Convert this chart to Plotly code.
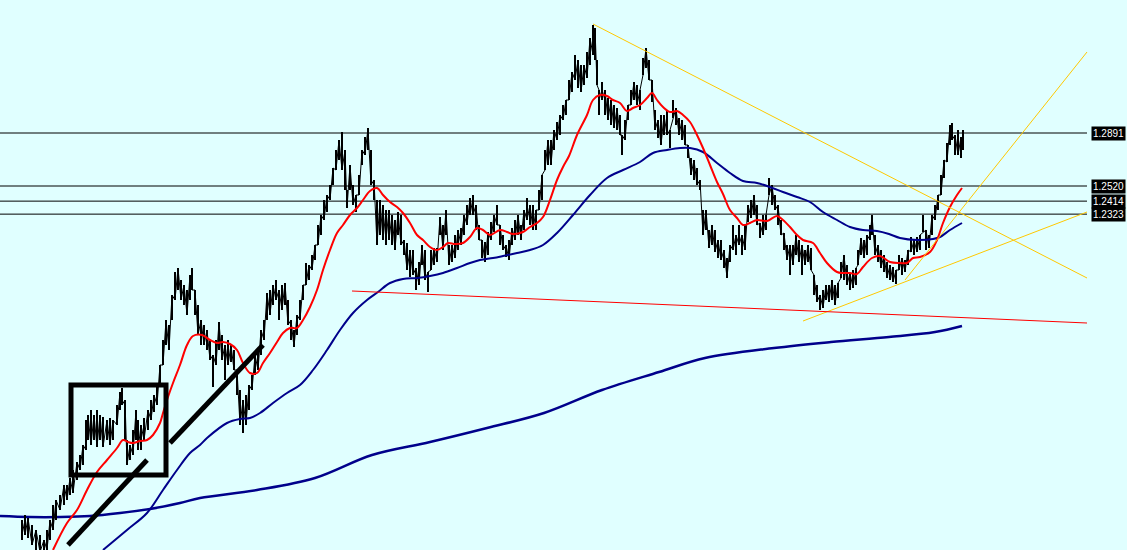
import plotly.graph_objects as go

# ---------------- data (bar index, prices) ----------------
bar = [22,25,28,32,36,40,44,47,50,53,
       56,60,64,67,70,73,77,80,83,86,
       88,91,94,97,100,103,107,110,113,117,
       120,122,125,127,130,133,136,138,141,144,
       148,151,154,157,160,163,166,169,172,175,
       178,181,184,187,190,192,195,198,201,204,
       207,210,213,216,219,222,225,228,231,234,
       237,240,243,246,249,252,255,258,261,264,
       267,270,273,276,279,282,285,288,291,294,
       297,300,303,306,309,312,315,318,321,324,
       327,330,333,336,339,342,345,347,350,353,
       356,359,362,365,368,371,374,377,380,383,
       386,389,392,395,398,401,404,407,410,413,
       416,419,422,425,428,431,434,437,440,443,
       446,449,452,455,458,461,464,467,470,473,
       476,479,482,485,488,491,494,497,500,503,
       506,509,512,515,518,521,524,527,530,533,
       536,539,542,545,548,551,554,557,560,563,
       566,569,572,575,578,581,584,587,590,593,
       595,597,599,602,605,608,611,614,617,620,
       622,625,628,631,634,637,640,643,646,649,
       652,655,658,661,664,667,670,673,676,679,
       682,685,688,691,694,697,700,703,706,709,
       712,715,718,721,724,727,730,733,736,739,
       742,745,748,751,754,757,760,763,766,769,
       772,775,778,781,784,787,790,793,796,799,
       802,805,808,811,814,817,820,823,826,829,
       832,835,838,841,844,847,850,853,856,858,
       861,864,867,870,872,875,878,881,884,887,
       890,893,896,899,902,905,908,911,914,917,
       920,923,926,929,932,935,938,941,944,947,
       950,952,955,958,961,963]

high = [1.0182,1.0217,1.0196,1.0147,1.0112,1.0077,1.0042,1.0112,1.0182,1.0287,
        1.0322,1.0357,1.0427,1.0427,1.0476,1.0532,1.0588,1.0637,1.0707,1.0882,
        1.0917,1.0952,1.0917,1.0952,1.0917,1.0903,1.0882,1.0896,1.0882,1.0987,
        1.1078,1.1106,1.1022,1.0742,1.0707,1.0812,1.0952,1.0882,1.0847,1.0896,
        1.0952,1.1022,1.1057,1.1127,1.1267,1.1442,1.1582,1.1547,1.1757,1.1918,
        1.1946,1.1862,1.1827,1.1792,1.1897,1.1946,1.1792,1.1687,1.1582,1.1547,
        1.1512,1.1442,1.1337,1.1442,1.1568,1.1477,1.1407,1.1442,1.1407,1.1372,
        1.1232,1.1092,1.1022,1.1057,1.1127,1.1197,1.1337,1.1372,1.1512,1.1582,
        1.1771,1.1792,1.1827,1.1862,1.1792,1.1827,1.1841,1.1722,1.1582,1.1512,
        1.1617,1.1722,1.1827,1.1981,1.1967,1.2037,1.2107,1.2247,1.2317,1.2422,
        1.2457,1.2527,1.2646,1.2772,1.2842,1.2898,1.2772,1.2492,1.2667,1.2527,
        1.2457,1.2597,1.2772,1.2863,1.2926,1.2772,1.2562,1.2422,1.2422,1.2387,
        1.2352,1.2352,1.2317,1.2282,1.2338,1.2317,1.2142,1.2121,1.2072,1.2072,
        1.1946,1.1988,1.2107,1.2072,1.1918,1.2072,1.2086,1.2086,1.2303,1.2247,
        1.2352,1.2107,1.2107,1.2177,1.2212,1.2226,1.2317,1.2387,1.2436,1.2457,
        1.2387,1.2247,1.2142,1.2128,1.2198,1.2268,1.2317,1.2387,1.2247,1.2177,
        1.2107,1.2142,1.2226,1.2282,1.2317,1.2247,1.2352,1.2436,1.2387,1.2387,
        1.2352,1.2492,1.2597,1.2772,1.2842,1.2842,1.2912,1.2968,1.3017,1.3087,
        1.3122,1.3262,1.3318,1.3437,1.3402,1.3367,1.3367,1.3458,1.3556,1.3647,
        1.3626,1.3402,1.3192,1.3248,1.3192,1.3136,1.3122,1.3087,1.3066,1.3017,
        1.2877,1.2982,1.3087,1.3192,1.3248,1.3227,1.3192,1.3416,1.3486,1.3402,
        1.3262,1.3052,1.2982,1.3017,1.3017,1.3052,1.2912,1.3122,1.3066,1.2996,
        1.2982,1.2947,1.2807,1.2716,1.2702,1.2646,1.2562,1.2352,1.2352,1.2212,
        1.2247,1.2212,1.2142,1.2142,1.2072,1.2016,1.2107,1.2247,1.2177,1.2247,
        1.2177,1.2247,1.2387,1.2422,1.2457,1.2387,1.2261,1.2317,1.2317,1.2576,
        1.2527,1.2457,1.2387,1.2282,1.2191,1.2107,1.2107,1.2107,1.2177,1.2142,
        1.2107,1.2072,1.2107,1.2086,1.1897,1.1827,1.1757,1.1792,1.1827,1.1827,
        1.1862,1.1827,1.1841,1.1988,1.2037,1.1967,1.1911,1.1932,1.1946,1.2072,
        1.2156,1.2142,1.2177,1.2247,1.2317,1.2177,1.2107,1.2072,1.2037,1.1988,
        1.1967,1.1953,1.1932,1.2037,1.2016,1.2002,1.2072,1.2163,1.2142,1.2163,
        1.2177,1.2317,1.2212,1.2177,1.2317,1.2387,1.2457,1.2597,1.2702,1.2821,
        1.2947,1.2961,1.2877,1.2912,1.2863,1.2912]

low = [1.0042,1.0077,1.0056,1.0007,0.9972,0.9958,0.9958,0.9972,1.0042,1.0112,
       1.0182,1.0252,1.0287,1.0322,1.0357,1.0371,1.0462,1.0532,1.0567,1.0672,
       1.0742,1.0707,1.0742,1.0693,1.0742,1.0693,1.0742,1.0707,1.0742,1.0847,
       1.0952,1.0987,1.0742,1.0567,1.0602,1.0637,1.0742,1.0672,1.0672,1.0742,
       1.0812,1.0882,1.0938,1.0987,1.1127,1.1267,1.1407,1.1372,1.1582,1.1722,
       1.1792,1.1722,1.1687,1.1617,1.1722,1.1792,1.1617,1.1477,1.1407,1.1407,
       1.1372,1.1302,1.1113,1.1267,1.1372,1.1302,1.1162,1.1267,1.1288,1.1232,
       1.1057,1.0847,1.0791,1.0847,1.0952,1.1092,1.1197,1.1232,1.1337,1.1442,
       1.1582,1.1617,1.1687,1.1722,1.1582,1.1652,1.1687,1.1547,1.1442,1.1393,
       1.1477,1.1582,1.1722,1.1827,1.1862,1.1932,1.2002,1.2107,1.2177,1.2282,
       1.2338,1.2422,1.2527,1.2632,1.2702,1.2632,1.2492,1.2366,1.2492,1.2387,
       1.2338,1.2457,1.2667,1.2737,1.2772,1.2527,1.2422,1.2107,1.2177,1.2142,
       1.2107,1.2142,1.2107,1.2072,1.2177,1.2107,1.2037,1.1932,1.1883,1.1897,
       1.1792,1.1827,1.1967,1.1862,1.1778,1.1932,1.1967,1.1988,1.2177,1.2072,
       1.2177,1.1967,1.1988,1.2016,1.2072,1.2107,1.2177,1.2247,1.2317,1.2317,
       1.2212,1.2142,1.2016,1.1988,1.2037,1.2142,1.2198,1.2247,1.2107,1.2072,
       1.2023,1.2002,1.2107,1.2142,1.2177,1.2142,1.2212,1.2282,1.2247,1.2212,
       1.2212,1.2352,1.2422,1.2632,1.2667,1.2667,1.2772,1.2842,1.2877,1.2982,
       1.3017,1.3122,1.3178,1.3262,1.3206,1.3178,1.3227,1.3276,1.3367,1.3437,
       1.3402,1.3227,1.3017,1.3122,1.3017,1.2982,1.2947,1.2926,1.2912,1.2877,
       1.2737,1.2842,1.2982,1.3087,1.3122,1.3087,1.3052,1.3297,1.3346,1.3262,
       1.3108,1.2912,1.2856,1.2807,1.2877,1.2877,1.2786,1.2996,1.2947,1.2877,
       1.2842,1.2807,1.2716,1.2597,1.2562,1.2527,1.2492,1.2177,1.2212,1.2086,
       1.2107,1.2058,1.2016,1.2002,1.1946,1.1876,1.1988,1.2072,1.2037,1.2107,
       1.2037,1.2072,1.2268,1.2296,1.2317,1.2247,1.2156,1.2177,1.2212,1.2457,
       1.2387,1.2352,1.2247,1.2177,1.2072,1.2002,1.1897,1.1967,1.2037,1.1988,
       1.1897,1.1967,1.1988,1.1932,1.1757,1.1708,1.1652,1.1666,1.1722,1.1708,
       1.1722,1.1687,1.1736,1.1876,1.1862,1.1827,1.1792,1.1806,1.1827,1.1967,
       1.2037,1.2016,1.2037,1.2142,1.2177,1.2037,1.1988,1.1946,1.1918,1.1876,
       1.1862,1.1848,1.1834,1.1932,1.1897,1.1918,1.1967,1.2058,1.2037,1.2058,
       1.2072,1.2198,1.2072,1.2086,1.2177,1.2282,1.2352,1.2457,1.2576,1.2688,
       1.2807,1.2842,1.2737,1.2737,1.2716,1.2772]

# short moving average (red)
ma_fast_bar = [53,67,77,87,97,107,117,123,128,133,140,147,153,160,163,168,173,180,187,193,
               202,210,217,223,230,237,243,250,257,263,270,277,283,290,297,303,310,317,323,330,
               337,343,350,357,363,370,377,383,390,397,403,410,417,423,430,437,443,448,455,463,
               470,477,483,490,500,507,513,523,530,537,543,550,557,563,569,577,587,593,600,607,
               613,620,627,633,640,647,652,657,663,670,677,683,690,697,703,710,717,723,730,737,
               743,750,757,767,777,783,790,797,803,813,820,827,837,843,850,857,863,872,880,890,
               900,907,913,920,930,937,943,950,957,962]
ma_fast = [0.9972,1.0161,1.0252,1.0392,1.0518,1.0602,1.0686,1.0742,1.0728,1.0721,1.0735,1.0742,1.0777,1.0861,1.0931,1.1043,1.1141,1.1267,1.1407,1.1470,
           1.1477,1.1442,1.1421,1.1428,1.1414,1.1372,1.1281,1.1211,1.1211,1.1281,1.1351,1.1428,1.1491,1.1526,1.1526,1.1582,1.1673,1.1792,1.1932,1.2072,
           1.2191,1.2247,1.2317,1.2366,1.2422,1.2485,1.2506,1.2457,1.2408,1.2373,1.2331,1.2261,1.2177,1.2142,1.2093,1.2072,1.2093,1.2121,1.2114,1.2121,
           1.2163,1.2226,1.2212,1.2177,1.2212,1.2198,1.2184,1.2198,1.2233,1.2261,1.2303,1.2422,1.2562,1.2653,1.2730,1.2877,1.3017,1.3122,1.3157,1.3150,
           1.3122,1.3101,1.3045,1.3066,1.3087,1.3136,1.3171,1.3122,1.3073,1.3038,1.3045,1.3017,1.2968,1.2877,1.2786,1.2667,1.2548,1.2464,1.2352,1.2296,
           1.2247,1.2261,1.2282,1.2275,1.2310,1.2282,1.2233,1.2177,1.2142,1.2121,1.2051,1.1981,1.1918,1.1911,1.1911,1.1904,1.1953,1.2016,1.2030,1.1988,
           1.1981,1.1981,1.2016,1.2023,1.2058,1.2142,1.2261,1.2373,1.2457,1.2506]

# medium moving average (navy)
ma_mid_bar = [103,127,147,163,177,190,200,207,227,240,250,260,273,287,300,313,327,340,353,367,
              378,390,403,417,430,443,457,470,480,493,503,517,530,543,557,573,590,607,623,640,
              653,667,680,690,703,717,730,743,757,770,783,797,810,823,837,850,863,877,889,900,
              917,933,940,950,962]
ma_mid = [0.9972,1.0112,1.0231,1.0392,1.0532,1.0651,1.0707,1.0756,1.0861,1.0889,1.0896,1.0931,1.1001,1.1071,1.1127,1.1232,1.1372,1.1512,1.1631,1.1722,
          1.1778,1.1841,1.1869,1.1876,1.1890,1.1911,1.1946,1.1981,1.2002,1.2016,1.2030,1.2051,1.2072,1.2107,1.2191,1.2317,1.2457,1.2576,1.2632,1.2688,
          1.2751,1.2772,1.2786,1.2786,1.2758,1.2681,1.2611,1.2555,1.2541,1.2513,1.2478,1.2443,1.2408,1.2338,1.2282,1.2233,1.2212,1.2205,1.2184,1.2156,
          1.2142,1.2149,1.2163,1.2212,1.2261]

# long moving average (navy)
ma_slow_bar = [0,30,60,90,120,150,180,200,257,315,372,430,487,544,602,659,705,774,831,889,935,962]
ma_slow = [1.0210,1.0203,1.0203,1.0210,1.0231,1.0259,1.0301,1.0336,1.0392,1.0476,1.0637,1.0728,1.0826,
           1.0931,1.1092,1.1218,1.1316,1.1386,1.1428,1.1463,1.1498,1.1540]

# horizontal price levels
levels = [1.2891, 1.2520, 1.2414, 1.2323]
level_labels = ["1.2891", "1.2520", "1.2414", "1.2323"]
level_end_bar = 1087

# drawn trend lines: (bar0, price0, bar1, price1, colour)
trend_lines = [
    (593, 1.3654, 1087, 1.1876, "#FFC800"),
    (803, 1.1575, 1087, 1.2338, "#FFC800"),
    (905, 1.1862, 1087, 1.3458, "#FFC800"),
    (352, 1.1785, 1087, 1.1561, "#FF0000"),
]
# thick black hand drawings
box = (71, 1.0497, 166, 1.1127)
thick_lines = [(68, 1.0007, 147, 1.0602), (170, 1.0721, 263, 1.1407)]

if not (len(bar) == len(high) == len(low)):
    raise ValueError(f"length mismatch {len(bar)} {len(high)} {len(low)}")
assert len(ma_fast_bar) == len(ma_fast), (len(ma_fast_bar), len(ma_fast))
assert len(ma_mid_bar) == len(ma_mid), (len(ma_mid_bar), len(ma_mid))
assert len(ma_slow_bar) == len(ma_slow)

# ---------------- figure ----------------
# price bars: one vertical high-low segment per bar, plus a thin zigzag joining them
px, py = [], []
for b, h, l in zip(bar, high, low):
    px += [b, b, None]
    py += [l, h, None]
zx, zy = [], []
for i, (b, h, l) in enumerate(zip(bar, high, low)):
    zx.append(b)
    zy.append(h if i % 2 == 0 else l)

fig = go.Figure()
fig.add_trace(go.Scatter(x=ma_slow_bar, y=ma_slow, mode="lines",
                         line=dict(color="#00008B", width=2.5, shape="spline"), hoverinfo="skip"))
fig.add_trace(go.Scatter(x=zx, y=zy, mode="lines",
                         line=dict(color="black", width=1), hoverinfo="skip"))
fig.add_trace(go.Scatter(x=px, y=py, mode="lines", connectgaps=False,
                         line=dict(color="black", width=2), hoverinfo="skip"))
fig.add_trace(go.Scatter(x=ma_mid_bar, y=ma_mid, mode="lines",
                         line=dict(color="#00008B", width=2, shape="spline"), hoverinfo="skip"))
fig.add_trace(go.Scatter(x=ma_fast_bar, y=ma_fast, mode="lines",
                         line=dict(color="#FF0000", width=2, shape="spline"), hoverinfo="skip"))

shapes = []
for lv in levels:
    shapes.append(dict(type="line", xref="x", yref="y", x0=0, x1=level_end_bar, y0=lv, y1=lv,
                       line=dict(color="black", width=1), layer="below"))
for (x0, y0, x1, y1, c) in trend_lines:
    shapes.append(dict(type="line", xref="x", yref="y", x0=x0, y0=y0, x1=x1, y1=y1,
                       line=dict(color=c, width=1)))
shapes.append(dict(type="rect", xref="x", yref="y", x0=box[0], y0=box[1], x1=box[2], y1=box[3],
                   line=dict(color="black", width=5)))
for (x0, y0, x1, y1) in thick_lines:
    shapes.append(dict(type="line", xref="x", yref="y", x0=x0, y0=y0, x1=x1, y1=y1,
                       line=dict(color="black", width=5)))

annotations = []
for lv, txt in zip(levels, level_labels):
    annotations.append(dict(x=level_end_bar + 4, y=lv, xref="x", yref="y", text=txt,
                            showarrow=False, xanchor="left", yanchor="middle",
                            bgcolor="black", borderpad=1,
                            font=dict(family="Liberation Sans, Arial", size=10, color="white")))

fig.update_layout(
    width=1127, height=550,
    margin=dict(l=0, r=0, t=0, b=0),
    paper_bgcolor="#E0FFFF", plot_bgcolor="#E0FFFF",
    showlegend=False,
    xaxis=dict(range=[0, 1127], visible=False, fixedrange=True),
    yaxis=dict(range=[0.9972, 1.3822], visible=False, fixedrange=True),
    shapes=shapes, annotations=annotations,
)

fig.write_html("out.html", config={"displayModeBar": False},
               post_script="document.body.style.margin='0';document.body.style.overflow='hidden';document.body.style.background='#E0FFFF';")
